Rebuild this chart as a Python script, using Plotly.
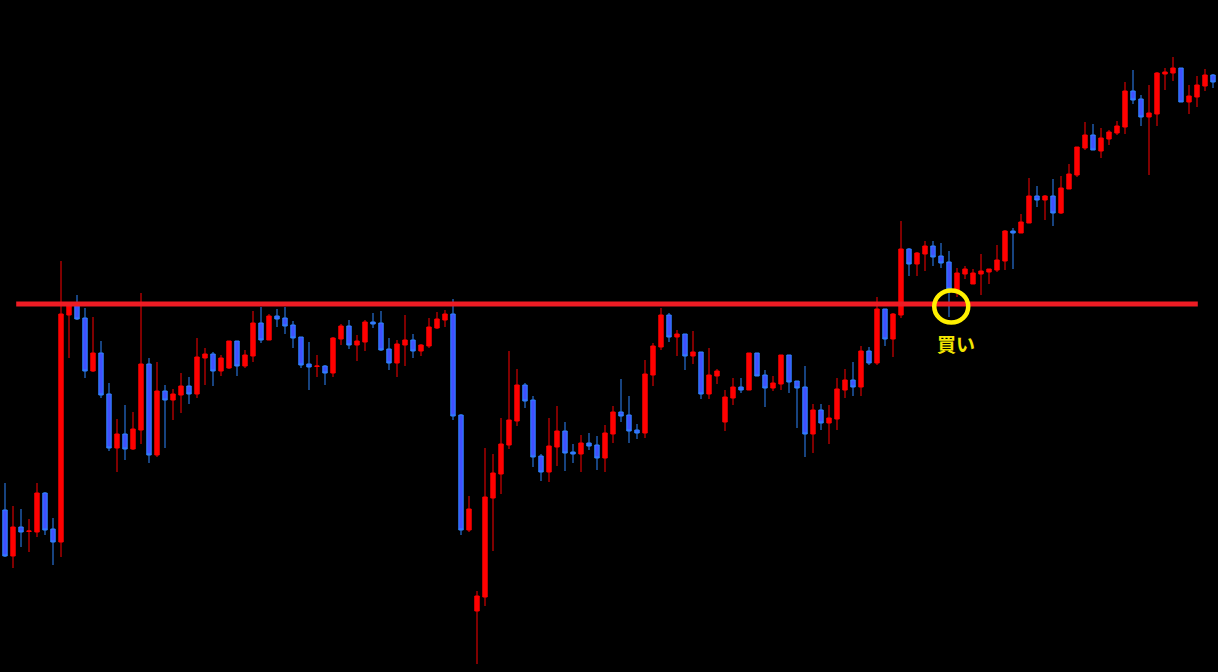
import plotly.graph_objects as go

# OHLC values (price units)
opens = [162, 116, 145, 140.5, 140, 179, 143, 130, 357, 367,
         354, 301, 319, 278, 224, 238, 223, 242, 308, 217,
         281, 272, 277, 286, 278, 314, 318, 301, 304, 331,
         306, 316, 349, 332, 356, 354, 347, 335, 308, 305.5,
         306, 299, 333, 346, 327, 330, 350, 349, 323, 309,
         327, 332, 321, 326, 344, 352, 358, 257, 142, 61,
         75, 174, 198, 227, 251, 287, 272, 216, 200, 225,
         241, 220, 218, 229, 227, 214, 238, 260, 257, 242,
         239, 297, 325, 357, 335, 338, 316, 320, 278, 296,
         250, 274, 285, 282, 319, 297, 284, 288, 317, 291,
         285, 238, 262, 249, 253, 282, 292, 285, 321, 309,
         363, 333, 357, 423, 408, 418, 426, 416, 410, 380,
         398, 388, 398, 400, 402, 411, 441, 439, 449, 476,
         472, 476, 459, 483, 497, 524, 537, 521, 533, 539,
         545, 581, 573, 555, 558, 598, 599, 604, 570, 575,
         586, 597]
highs = [189, 166, 163, 153, 189, 180, 154, 411, 370, 377,
         364, 355, 331, 289, 253, 267, 260, 379, 314, 310,
         287, 283, 299, 295, 334, 324, 320, 317, 331, 331,
         322, 361, 365, 358, 363, 365, 351, 335, 330, 317,
         307, 335, 348, 352, 337, 352, 359, 361, 334, 332,
         357, 338, 328, 354, 360, 362, 373, 258, 176, 81,
         224, 218, 254, 321, 303, 289, 276, 218, 254, 266,
         250, 228, 237, 239, 236, 247, 266, 293, 276, 248,
         312, 329, 364, 359, 342, 338, 341, 320, 324, 303,
         282, 294, 294, 319, 319, 302, 296, 317, 317, 291,
         306, 268, 268, 267, 294, 303, 310, 326, 325, 375,
         363, 359, 451, 424, 420, 431, 431, 429, 421, 404,
         406, 403, 418, 403, 427, 442, 444, 458, 494, 486,
         477, 493, 496, 508, 525, 550, 548, 544, 542, 551,
         590, 602, 577, 587, 600, 604, 615, 604, 587, 596,
         603, 598]
lows = [115, 104, 125, 120, 135, 137, 107, 115, 314, 352,
        294, 300, 274, 221, 200, 212, 222, 228, 209, 215,
        224, 252, 259, 268, 274, 287, 286, 296, 303, 296,
        304, 310, 329, 332, 345, 338, 324, 304, 282, 295,
        287, 295, 327, 323, 311, 321, 344, 321, 302, 295,
        306, 314, 316, 324, 343, 345, 252, 137, 140, 8,
        66, 121, 178, 223, 246, 264, 205, 191, 190, 206,
        201, 209, 200, 222, 202, 200, 229, 250, 229, 233,
        234, 286, 322, 330, 316, 302, 308, 273, 273, 288,
        241, 267, 279, 282, 296, 265, 281, 282, 279, 244,
        215, 219, 242, 228, 242, 274, 276, 276, 307, 307,
        326, 315, 354, 396, 396, 401, 406, 404, 355, 375,
        393, 388, 377, 388, 400, 402, 403, 439, 449, 465,
        452, 446, 458, 483, 495, 522, 522, 514, 527, 537,
        538, 568, 546, 497, 546, 582, 591, 570, 558, 565,
        581, 584]
closes = [116, 145, 140, 141, 179, 142, 130, 358, 366, 353,
          301, 319, 277, 224, 238, 223, 243, 308, 217, 281,
          272, 278, 286, 278, 315, 318, 301, 314, 331, 306,
          317, 349, 332, 356, 353, 346, 334, 307, 305, 306,
          299, 334, 346, 327, 331, 350, 348, 322, 309, 328,
          332, 321, 327, 345, 353, 358, 256, 142, 163, 76,
          175, 199, 228, 252, 287, 271, 215, 200, 226, 241,
          219, 218, 229, 226, 214, 239, 260, 256, 241, 239,
          298, 326, 357, 335, 338, 316, 320, 278, 297, 301,
          275, 285, 282, 319, 296, 284, 289, 317, 290, 284,
          238, 262, 249, 254, 283, 292, 285, 321, 309, 363,
          333, 358, 423, 408, 419, 426, 415, 409, 383, 399,
          403, 399, 401, 403, 412, 441, 439, 450, 476, 472,
          476, 459, 484, 498, 525, 537, 522, 534, 540, 546,
          581, 572, 555, 559, 599, 600, 604, 570, 576, 587,
          597, 590]
bars = list(range(len(opens)))

resistance = 368          # horizontal level
line_start, line_end = 1.4, 149.1
buy_bar = 118.28
buy_label = "買い"

fig = go.Figure()
fig.add_trace(go.Candlestick(
    x=bars, open=opens, high=highs, low=lows, close=closes,
    increasing=dict(line=dict(color="#FF0000", width=1), fillcolor="#FF0000"),
    decreasing=dict(line=dict(color="#2E86FF", width=1), fillcolor="#4050FF"),
    whiskerwidth=0, hoverinfo="skip", showlegend=False,
))

fig.add_shape(type="line", xref="x", yref="y",
              x0=line_start, x1=line_end, y0=resistance, y1=resistance,
              line=dict(color="#EE1C24", width=5))

fig.add_shape(type="circle", xref="x", yref="y",
              xsizemode="pixel", ysizemode="pixel",
              xanchor=buy_bar, yanchor=resistance,
              x0=-17, x1=17, y0=-18.5, y1=13.5,
              line=dict(color="#FFF000", width=4.5))

fig.add_annotation(x=buy_bar, y=resistance, text="<b>" + buy_label + "</b>",
                   showarrow=False, xshift=5, yshift=-39,
                   font=dict(family="Noto Sans CJK JP", size=19, color="#F2E400"))

fig.update_layout(
    width=1218, height=672,
    margin=dict(l=0, r=0, t=0, b=0),
    paper_bgcolor="#000000", plot_bgcolor="#000000",
    boxgap=0.45, boxgroupgap=0,
    xaxis=dict(range=[-0.625, 151.625], visible=False, showgrid=False,
               zeroline=False, rangeslider=dict(visible=False), fixedrange=True),
    yaxis=dict(range=[0, 672], visible=False, showgrid=False, zeroline=False,
               fixedrange=True),
    showlegend=False,
)

fig.write_html(
    "out.html",
    config={"displayModeBar": False},
    post_script="document.body.style.margin='0';document.body.style.background='#000';",
)
